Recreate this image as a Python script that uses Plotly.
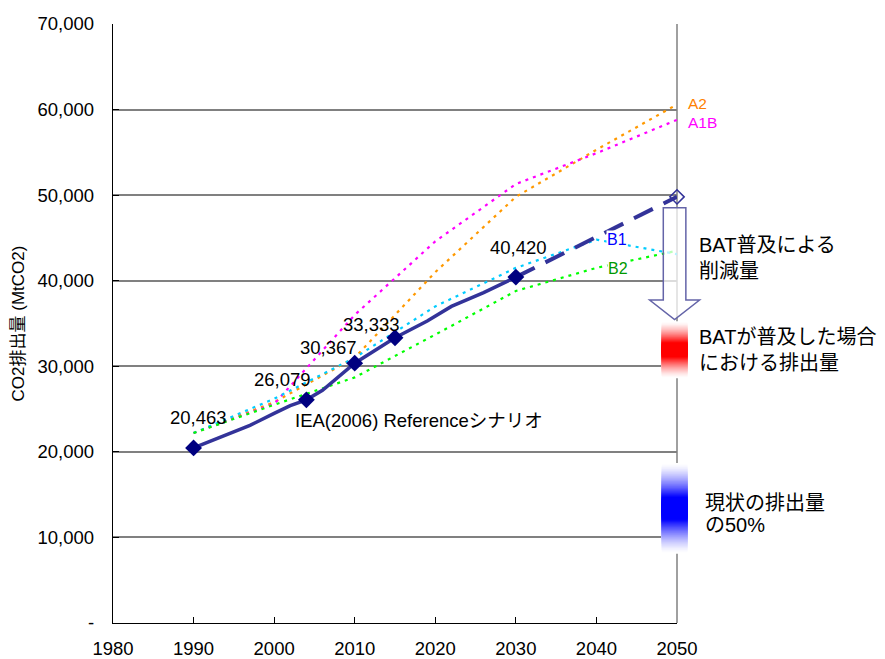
import plotly.graph_objects as go

# IEA (2006) reference scenario, CO2 emissions (MtCO2)
ref_years = [1990, 1995, 1997, 2000, 2002, 2004, 2006, 2010, 2015, 2019, 2022, 2026, 2030]
ref_co2 = [20463, 22300, 23100, 24500, 25400, 26079, 27200, 30367, 33333, 35300, 37000, 38600, 40420]

# labelled milestones of the reference scenario
key_years = [1990, 2004, 2010, 2015, 2030]
key_co2 = [20463, 26079, 30367, 33333, 40420]

# extension of the reference scenario to 2050
ext_years = [2030, 2050]
ext_co2 = [40420, 49800]

# IPCC SRES marker scenarios
sres_years = [1990, 2000, 2010, 2020, 2030, 2040, 2050]
sres = {
    "A2": [22200, 25800, 31000, 41000, 49800, 55300, 60600],
    "A1B": [22200, 25600, 36000, 44600, 51300, 54900, 58800],
    "B1": [22200, 26200, 31000, 37000, 41500, 44800, 43100],
    "B2": [22200, 25500, 28700, 33700, 38800, 41500, 43500],
}
sres_line_colors = {"A2": "#FF9900", "A1B": "#FF00FF", "B1": "#00CCFF", "B2": "#00FF00"}
sres_text_colors = {"A2": "#FF7F00", "A1B": "#FF00FF", "B1": "#0000FF", "B2": "#009900"}
# label anchor (year, value) for each scenario name
sres_label_pos = {"A2": (2051.2, 60700), "A1B": (2051.2, 58500), "B1": (2042.6, 44870), "B2": (2042.7, 41370)}

y_ticks = [0, 10000, 20000, 30000, 40000, 50000, 60000, 70000]
y_tick_text = ["-", "10,000", "20,000", "30,000", "40,000", "50,000", "60,000", "70,000"]
x_ticks = [1980, 1990, 2000, 2010, 2020, 2030, 2040, 2050]

X0, X1 = 1980, 2050
Y0, Y1 = 0, 70000

FONT = "Liberation Sans, Arial, Noto Sans CJK JP, sans-serif"


def px(year):
    return (year - X0) / (X1 - X0)


def py(val):
    return (val - Y0) / (Y1 - Y0)


fig = go.Figure()

for name in ["A2", "A1B", "B1", "B2"]:
    fig.add_trace(go.Scatter(
        x=sres_years, y=sres[name], mode="lines", name=name,
        line=dict(color=sres_line_colors[name], width=2.2, dash="3px,5px"),
        hoverinfo="skip",
    ))

fig.add_trace(go.Scatter(
    x=ext_years, y=ext_co2, mode="lines",
    line=dict(color="#333399", width=4, dash="21px,12px"),
    hoverinfo="skip",
))
fig.add_trace(go.Scatter(
    x=ext_years[-1:], y=ext_co2[-1:], mode="markers",
    marker=dict(symbol="diamond-open", size=11, color="#333399", line=dict(width=1.5, color="#333399")),
    hoverinfo="skip", cliponaxis=False,
))
fig.add_trace(go.Scatter(
    x=ref_years, y=ref_co2, mode="lines",
    line=dict(color="#333399", width=3.5),
    hoverinfo="skip",
))
fig.add_trace(go.Scatter(
    x=key_years, y=key_co2, mode="markers",
    marker=dict(symbol="diamond", size=13, color="#000080"),
    hoverinfo="skip",
))

annotations = []

# value labels for the milestones
label_shift = [(5, 30), (-24, 20), (-26, 16), (-24, 13), (3, 30)]
for yr, v, (dx, dy) in zip(key_years, key_co2, label_shift):
    annotations.append(dict(
        x=yr, y=v, xref="x", yref="y", text=f"{v:,}", showarrow=False,
        xshift=dx, yshift=dy, font=dict(size=18.5, color="#000000"),
    ))

annotations.append(dict(
    x=2002.3, y=23720, xref="x", yref="y", text="IEA(2006) Referenceシナリオ",
    showarrow=False, xanchor="left", yanchor="middle",
    font=dict(size=18.5, color="#000000"),
))

for name, (lx, ly) in sres_label_pos.items():
    is_a = name.startswith("A")
    annotations.append(dict(
        x=px(lx), y=py(ly), xref="paper", yref="paper", text=name, showarrow=False,
        xanchor="left" if is_a else "center", yanchor="middle",
        bgcolor=None if is_a else "#FFFFFF", borderpad=0,
        font=dict(size=15.5 if is_a else 16, color=sres_text_colors[name]),
    ))

# legend texts on the right
legend_lines = [
    ("BAT普及による", 2052.5, 44170),
    ("削減量", 2052.5, 41100),
    ("BATが普及した場合", 2052.5, 33380),
    ("における排出量", 2052.5, 30340),
    ("現状の排出量", 2053.2, 14000),
    ("の50%", 2053.2, 11450),
]
for txt, lx, ly in legend_lines:
    annotations.append(dict(
        x=px(lx), y=py(ly), xref="paper", yref="paper", text=txt, showarrow=False,
        xanchor="left", yanchor="middle", font=dict(size=20, color="#000000"),
    ))

shapes = []

# right border of the plot area
shapes.append(dict(type="line", xref="paper", yref="paper", x0=1, x1=1, y0=0, y1=1,
                   line=dict(color="#808080", width=1.5), layer="below"))

# hollow down arrow (reduction by BAT)
bx0, bx1 = 2048.3, 2051.1
hx0, hx1 = 2046.6, 2052.8
top, neck, tip = 48530, 37750, 35450
tip_x = (bx0 + bx1) / 2
pts = [(bx0, top), (bx1, top), (bx1, neck), (hx1, neck), (tip_x, tip), (hx0, neck), (bx0, neck)]
path = "M " + " L ".join(f"{px(a):.5f},{py(b):.5f}" for a, b in pts) + " Z"
shapes.append(dict(type="path", xref="paper", yref="paper", path=path,
                   fillcolor="rgba(255,255,255,0.72)", line=dict(color="#6464A8", width=1.5),
                   layer="above"))


def gradient_bar(x0, x1, v_top, v_bot, rgb, steps=40):
    # nested bands, lightest (widest) first, so there are no seams
    out = []
    mid = (v_top + v_bot) / 2
    half = (v_top - v_bot) / 2
    for i in range(steps):
        s = 1 - i / steps          # relative half-height of this band
        f = 1 - s                  # colour strength at the band edge
        f = min(1.0, f * 1.35) ** 1.4
        r = round(255 + (rgb[0] - 255) * f)
        g = round(255 + (rgb[1] - 255) * f)
        b = round(255 + (rgb[2] - 255) * f)
        out.append(dict(type="rect", xref="paper", yref="paper",
                        x0=px(x0), x1=px(x1), y0=py(mid - half * s), y1=py(mid + half * s),
                        fillcolor=f"rgb({r},{g},{b})", line=dict(width=0), layer="above"))
    return out


shapes += gradient_bar(2048.1, 2051.3, 35250, 28600, (255, 0, 0))
shapes += gradient_bar(2048.1, 2051.3, 18700, 8100, (0, 0, 255))

fig.update_layout(
    width=885, height=659,
    margin=dict(l=113, r=208, t=24, b=36, autoexpand=False),
    paper_bgcolor="#FFFFFF", plot_bgcolor="#FFFFFF",
    showlegend=False,
    font=dict(family=FONT, size=18, color="#000000"),
    annotations=annotations,
    shapes=shapes,
)
fig.update_xaxes(
    range=[X0, X1], tickvals=x_ticks, ticks="inside", ticklen=6, tickcolor="#000000",
    showline=True, linecolor="#000000", linewidth=1.3, showgrid=False, zeroline=False,
    ticklabelstandoff=9, tickfont=dict(size=18.5), automargin=False,
)
fig.update_yaxes(
    range=[Y0, Y1], tickvals=y_ticks, ticktext=y_tick_text, ticks="inside", ticklen=6,
    tickcolor="#000000", showline=True, linecolor="#000000", linewidth=1.3,
    showgrid=True, gridcolor="#808080", gridwidth=1.5, zeroline=False,
    ticklabelstandoff=14, tickfont=dict(size=18.5), automargin=False,
    title=dict(text="CO2排出量 (MtCO2)", font=dict(size=17), standoff=8),
)

fig.write_html("out.html")
